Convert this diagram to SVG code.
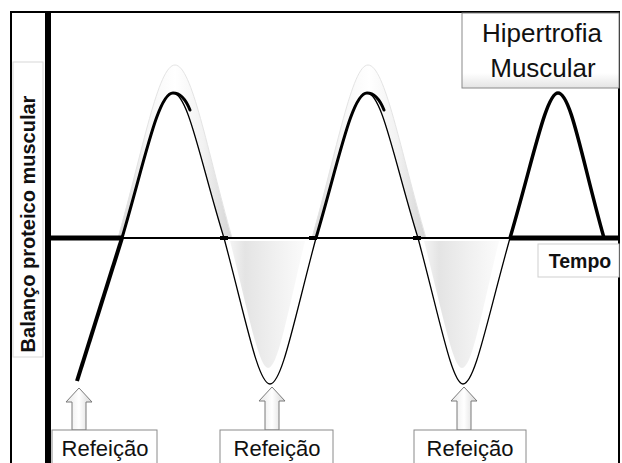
<svg xmlns="http://www.w3.org/2000/svg" width="622" height="463" viewBox="0 0 622 463">
<defs>
<linearGradient id="glow" x1="0" y1="0" x2="1" y2="0">
<stop offset="0" stop-color="#d8d8d8"/>
<stop offset="0.25" stop-color="#f6f6f6"/>
<stop offset="0.5" stop-color="#ffffff"/>
<stop offset="0.75" stop-color="#f2f2f2"/>
<stop offset="1" stop-color="#d4d4d4"/>
</linearGradient>
<linearGradient id="trough" x1="0" y1="0" x2="1" y2="0">
<stop offset="0" stop-color="#f4f4f4"/>
<stop offset="0.2" stop-color="#e4e4e4"/>
<stop offset="0.6" stop-color="#f0f0f0"/>
<stop offset="1" stop-color="#fbfbfb"/>
</linearGradient>
<linearGradient id="box" x1="0" y1="0" x2="0" y2="1">
<stop offset="0" stop-color="#ffffff"/>
<stop offset="0.8" stop-color="#ffffff"/>
<stop offset="1" stop-color="#e4e4e4"/>
</linearGradient>
<linearGradient id="arrow" x1="0" y1="0" x2="1" y2="0">
<stop offset="0" stop-color="#e6e6e6"/>
<stop offset="0.5" stop-color="#ffffff"/>
<stop offset="1" stop-color="#d6d6d6"/>
</linearGradient>
<style>
.frame{fill:none;stroke:#000;stroke-width:2}
.lbl{font-family:"Liberation Sans",Arial,sans-serif;fill:#111}
.bold{font-weight:bold}
.rbox{fill:url(#box);stroke:#8a8a8a;stroke-width:1}
.arr{fill:url(#arrow);stroke:#7a7a7a;stroke-width:1}
.glow{fill:url(#glow);stroke:#e4e4e4;stroke-width:1}
.inner{fill:#fff;stroke:none}
.tr{fill:url(#trough);stroke:none}
.thin{fill:none;stroke:#000;stroke-width:1.3}
.thick{fill:none;stroke:#000;stroke-width:3;stroke-linecap:round}
</style>
</defs>
<rect x="0" y="0" width="622" height="463" fill="#fff"/>
<rect class="frame" x="11" y="12" width="608" height="470"/>

<g id="ylabel">
<rect x="13" y="62" width="30" height="295" fill="#fff" stroke="#d8d8d8" stroke-width="1"/>
<text class="lbl bold" x="0" y="0" font-size="20" text-anchor="middle" transform="translate(35 224) rotate(-90)">Balanço proteico muscular</text>
</g>

<g id="glows">
<path class="glow" d="M118 238 C143 150 158 65 175 65 C192 65 207 150 232 238 Z"/>
<path class="inner" d="M122 238 C145 160 158 93 173 93 C188 93 200 160 224 238 Z"/>
<path class="glow" d="M312 238 C337 150 352 65 368 65 C385 65 400 150 426 238 Z"/>
<path class="inner" d="M316 238 C339 160 352 93 367 93 C382 93 394 160 418 238 Z"/>
<path class="tr" d="M230 241 C249 315 259 368 268 368 C278 368 287 315 305 241 Z"/>
<path class="tr" d="M424 241 C443 315 453 368 462 368 C472 368 481 315 499 241 Z"/>
</g>

<g id="axes">
<line x1="48" y1="12" x2="48" y2="463" stroke="#000" stroke-width="6"/>
<line x1="48" y1="238" x2="122" y2="238" stroke="#000" stroke-width="5"/>
<line x1="122" y1="238" x2="510" y2="238" stroke="#000" stroke-width="2"/>
<line x1="510" y1="238" x2="619" y2="238" stroke="#000" stroke-width="5"/>
<line x1="220" y1="238" x2="228" y2="238" stroke="#000" stroke-width="4"/>
<line x1="309" y1="238" x2="317" y2="238" stroke="#000" stroke-width="4"/>
<line x1="413" y1="238" x2="421" y2="238" stroke="#000" stroke-width="4"/>
</g>

<g id="connectors">
<line x1="77" y1="381" x2="122" y2="238" stroke="#000" stroke-width="4"/>
<path class="thin" d="M122 238 C145 160 158 93 173 93 C188 93 200 160 224 238"/>
<path class="thick" d="M122 238 C145 160 158 93 173 93 C180 93 186 100 190 110"/>
<path class="thin" stroke-width="1.7" d="M224 238 C246 320 258 384 270 384 C282 384 294 320 316 238"/>
<path class="thin" d="M316 238 C339 160 352 93 367 93 C382 93 394 160 418 238"/>
<path class="thick" d="M316 238 C339 160 352 93 367 93 C374 93 380 100 384 110"/>
<path class="thin" stroke-width="1.7" d="M418 238 C440 320 452 384 463 384 C475 384 487 320 510 238"/>
<path fill="none" stroke="#000" stroke-width="3.5" d="M510 238 C533 160 546 93 558 93 C571 93 582 160 604 238"/>
<path class="arr" d="M79 388 L92 402 L86 402 L86 430 L72 430 L72 402 L66 402 Z"/>
<path class="arr" d="M272 387 L285 401 L279 401 L279 430 L265 430 L265 401 L259 401 Z"/>
<path class="arr" d="M464 387 L477 401 L471 401 L471 430 L457 430 L457 401 L451 401 Z"/>
</g>

<g id="hipertrofia">
<rect class="rbox" x="462" y="13" width="157" height="75"/>
<text class="lbl" x="542" y="42" font-size="26" text-anchor="middle">Hipertrofia</text>
<text class="lbl" x="543" y="77" font-size="26" text-anchor="middle">Muscular</text>
</g>

<g id="tempo">
<rect x="538" y="244" width="81" height="33" fill="#fff" stroke="#cfcfcf" stroke-width="1"/>
<text class="lbl bold" x="580" y="268" font-size="19.5" text-anchor="middle">Tempo</text>
</g>

<g id="refeicao1">
<rect class="rbox" x="52" y="430" width="105" height="40"/>
<text class="lbl" x="105" y="456" font-size="22" text-anchor="middle">Refeição</text>
</g>
<g id="refeicao2">
<rect class="rbox" x="220" y="430" width="113" height="40"/>
<text class="lbl" x="277" y="456" font-size="22" text-anchor="middle">Refeição</text>
</g>
<g id="refeicao3">
<rect class="rbox" x="414" y="430" width="112" height="40"/>
<text class="lbl" x="470" y="456" font-size="22" text-anchor="middle">Refeição</text>
</g>
</svg>
